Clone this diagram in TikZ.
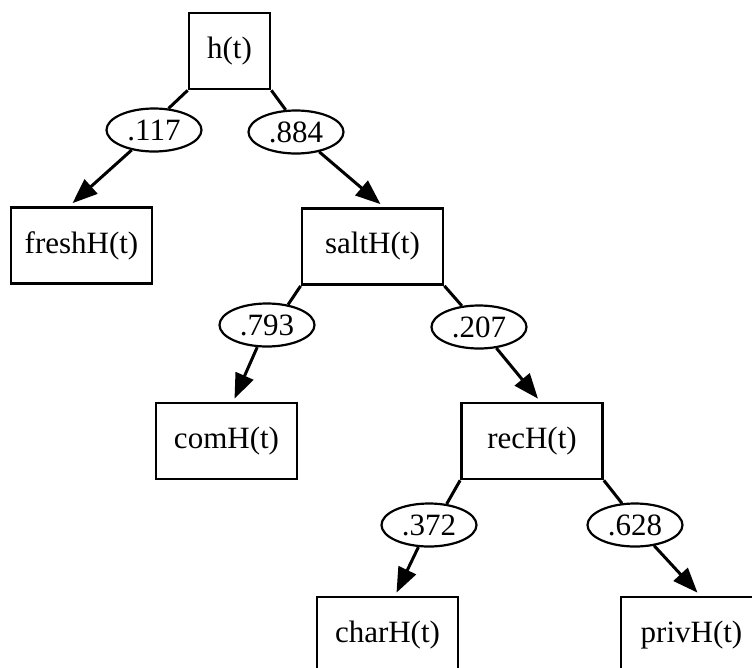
\documentclass[tikz,border=0pt]{standalone}
\usepackage{fontspec}
\setmainfont{Liberation Serif}
\usetikzlibrary{shapes.geometric,arrows.meta,calc}
\begin{document}
\begin{tikzpicture}[x=1pt,y=-1pt,
  box/.style={draw, line width=2.7pt, inner sep=0pt, minimum height=76pt, minimum width=141pt, font=\fontsize{31}{36}\selectfont},
  prob/.style={ellipse, draw, line width=2.2pt, inner sep=0pt, minimum width=95pt, minimum height=43pt, font=\fontsize{31}{36}\selectfont},
  link/.style={line width=3pt},
  arr/.style={line width=3pt, -{Triangle[length=25pt,width=19pt]}}]
\useasboundingbox (0,0) rectangle (752,667);
\clip (0,0) rectangle (752,667);
\node[box, minimum width=81pt] (h) at (229.5,51) {h(t)};
\node[box] (fresh) at (81.5,245.5) {freshH(t)};
\node[box] (salt) at (372.5,246.5) {saltH(t)};
\node[box] (com) at (226.5,441) {comH(t)};
\node[box] (rec) at (532,441) {recH(t)};
\node[box] (charb) at (387.5,635) {charH(t)};
\node[box] (priv) at (691.5,635) {privH(t)};
\node[prob] (pa) at (154,130) {.117};
\node[prob] (pb) at (296,132) {.884};
\node[prob] (pc) at (267,325) {.793};
\node[prob] (pd) at (479,327) {.207};
\node[prob] (pe) at (429,525) {.372};
\node[prob] (pf) at (635,525) {.628};
\draw[link] (h.south west) -- (pa.56);
\draw[link] (h.south east) -- (pb.115);
\draw[link] (salt.south west) -- (pc.44);
\draw[link] (salt.south east) -- (pd.129);
\draw[link] (rec.south west) -- (pe.50);
\draw[link] (rec.south east) -- (pf.121);
\draw[arr] (pa) -- ([xshift=-9pt,yshift=3pt]fresh.north);
\draw[arr] (pb) -- ([xshift=8pt,yshift=3pt]salt.north);
\draw[arr] (pc) -- ([xshift=8pt,yshift=3pt]com.north);
\draw[arr] (pd) -- ([xshift=6pt,yshift=3pt]rec.north);
\draw[arr] (pe) -- ([xshift=9pt,yshift=3pt]charb.north);
\draw[arr] (pf) -- ([xshift=6pt,yshift=3pt]priv.north);
\end{tikzpicture}
\end{document}
